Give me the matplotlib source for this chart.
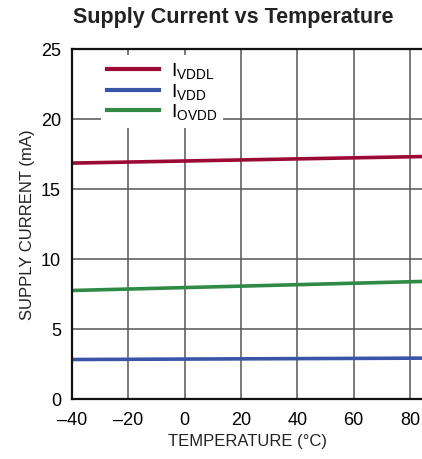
import matplotlib
matplotlib.use("Agg")
import matplotlib.pyplot as plt
from matplotlib import font_manager

######################################
temperature = [-40, 85]
i_vddl = [16.85, 17.32]
i_vdd  = [2.82, 2.92]
i_ovdd = [7.75, 8.40]
xticks = [-40, -20, 0, 20, 40, 60, 80]
yticks = [0, 5, 10, 15, 20, 25]
######################################
names = [f.name for f in font_manager.fontManager.ttflist]
fam = "Liberation Sans Narrow" if "Liberation Sans Narrow" in names else "Liberation Sans"
plt.rcParams['font.family'] = [fam, 'DejaVu Sans']

fig = plt.figure(figsize=(4.22, 4.6), dpi=100)
ax = fig.add_axes([72/422, 1 - 400/460, 1 - 72/422, 350/460])

ax.plot(temperature, i_vddl, color='#9b0a35', lw=2.6, label='I$_{\\mathregular{VDDL}}$')
ax.plot(temperature, i_vdd,  color='#3a55a8', lw=2.6, label='I$_{\\mathregular{VDD}}$')
ax.plot(temperature, i_ovdd, color='#2f8a46', lw=2.6, label='I$_{\\mathregular{OVDD}}$')

ax.set_xlim(-40, 84.3)
ax.set_ylim(0, 25)
ax.set_xticks(xticks)
ax.set_yticks(yticks)
ax.set_xticklabels(['\u2013' + str(-t) if t < 0 else str(t) for t in xticks], fontsize=13)
ax.set_yticklabels([str(t) for t in yticks], fontsize=13)
ax.tick_params(axis='x', length=0, pad=9)
ax.tick_params(axis='y', length=0, pad=8)
ax.grid(True, color='#555555', lw=1.1)
ax.set_axisbelow(True)
ax.spines['right'].set_visible(False)
for s in ['left', 'bottom', 'top']:
    ax.spines[s].set_linewidth(1.6)
    ax.spines[s].set_color('#111111')

ax.set_xlabel('TEMPERATURE (°C)', fontsize=12, color='#222222', labelpad=3)
ax.set_ylabel('SUPPLY CURRENT (mA)', fontsize=12, color='#222222', labelpad=4)

leg = ax.legend(loc='upper left', bbox_to_anchor=(0.055, 1.01), frameon=True, fontsize=14,
                handlelength=2.7, handletextpad=0.6, labelspacing=0.0, borderpad=0.3)
leg.get_frame().set_edgecolor('none')
leg.get_frame().set_facecolor('white')
leg.get_frame().set_alpha(1.0)
for line in leg.get_lines():
    line.set_linewidth(3.0)

fig.text(233/422, 1 - 18/460, 'Supply Current vs Temperature', ha='center', va='center',
         fontsize=15.5, fontweight='bold', color='#222222')

fig.savefig('out.png', dpi=100)
